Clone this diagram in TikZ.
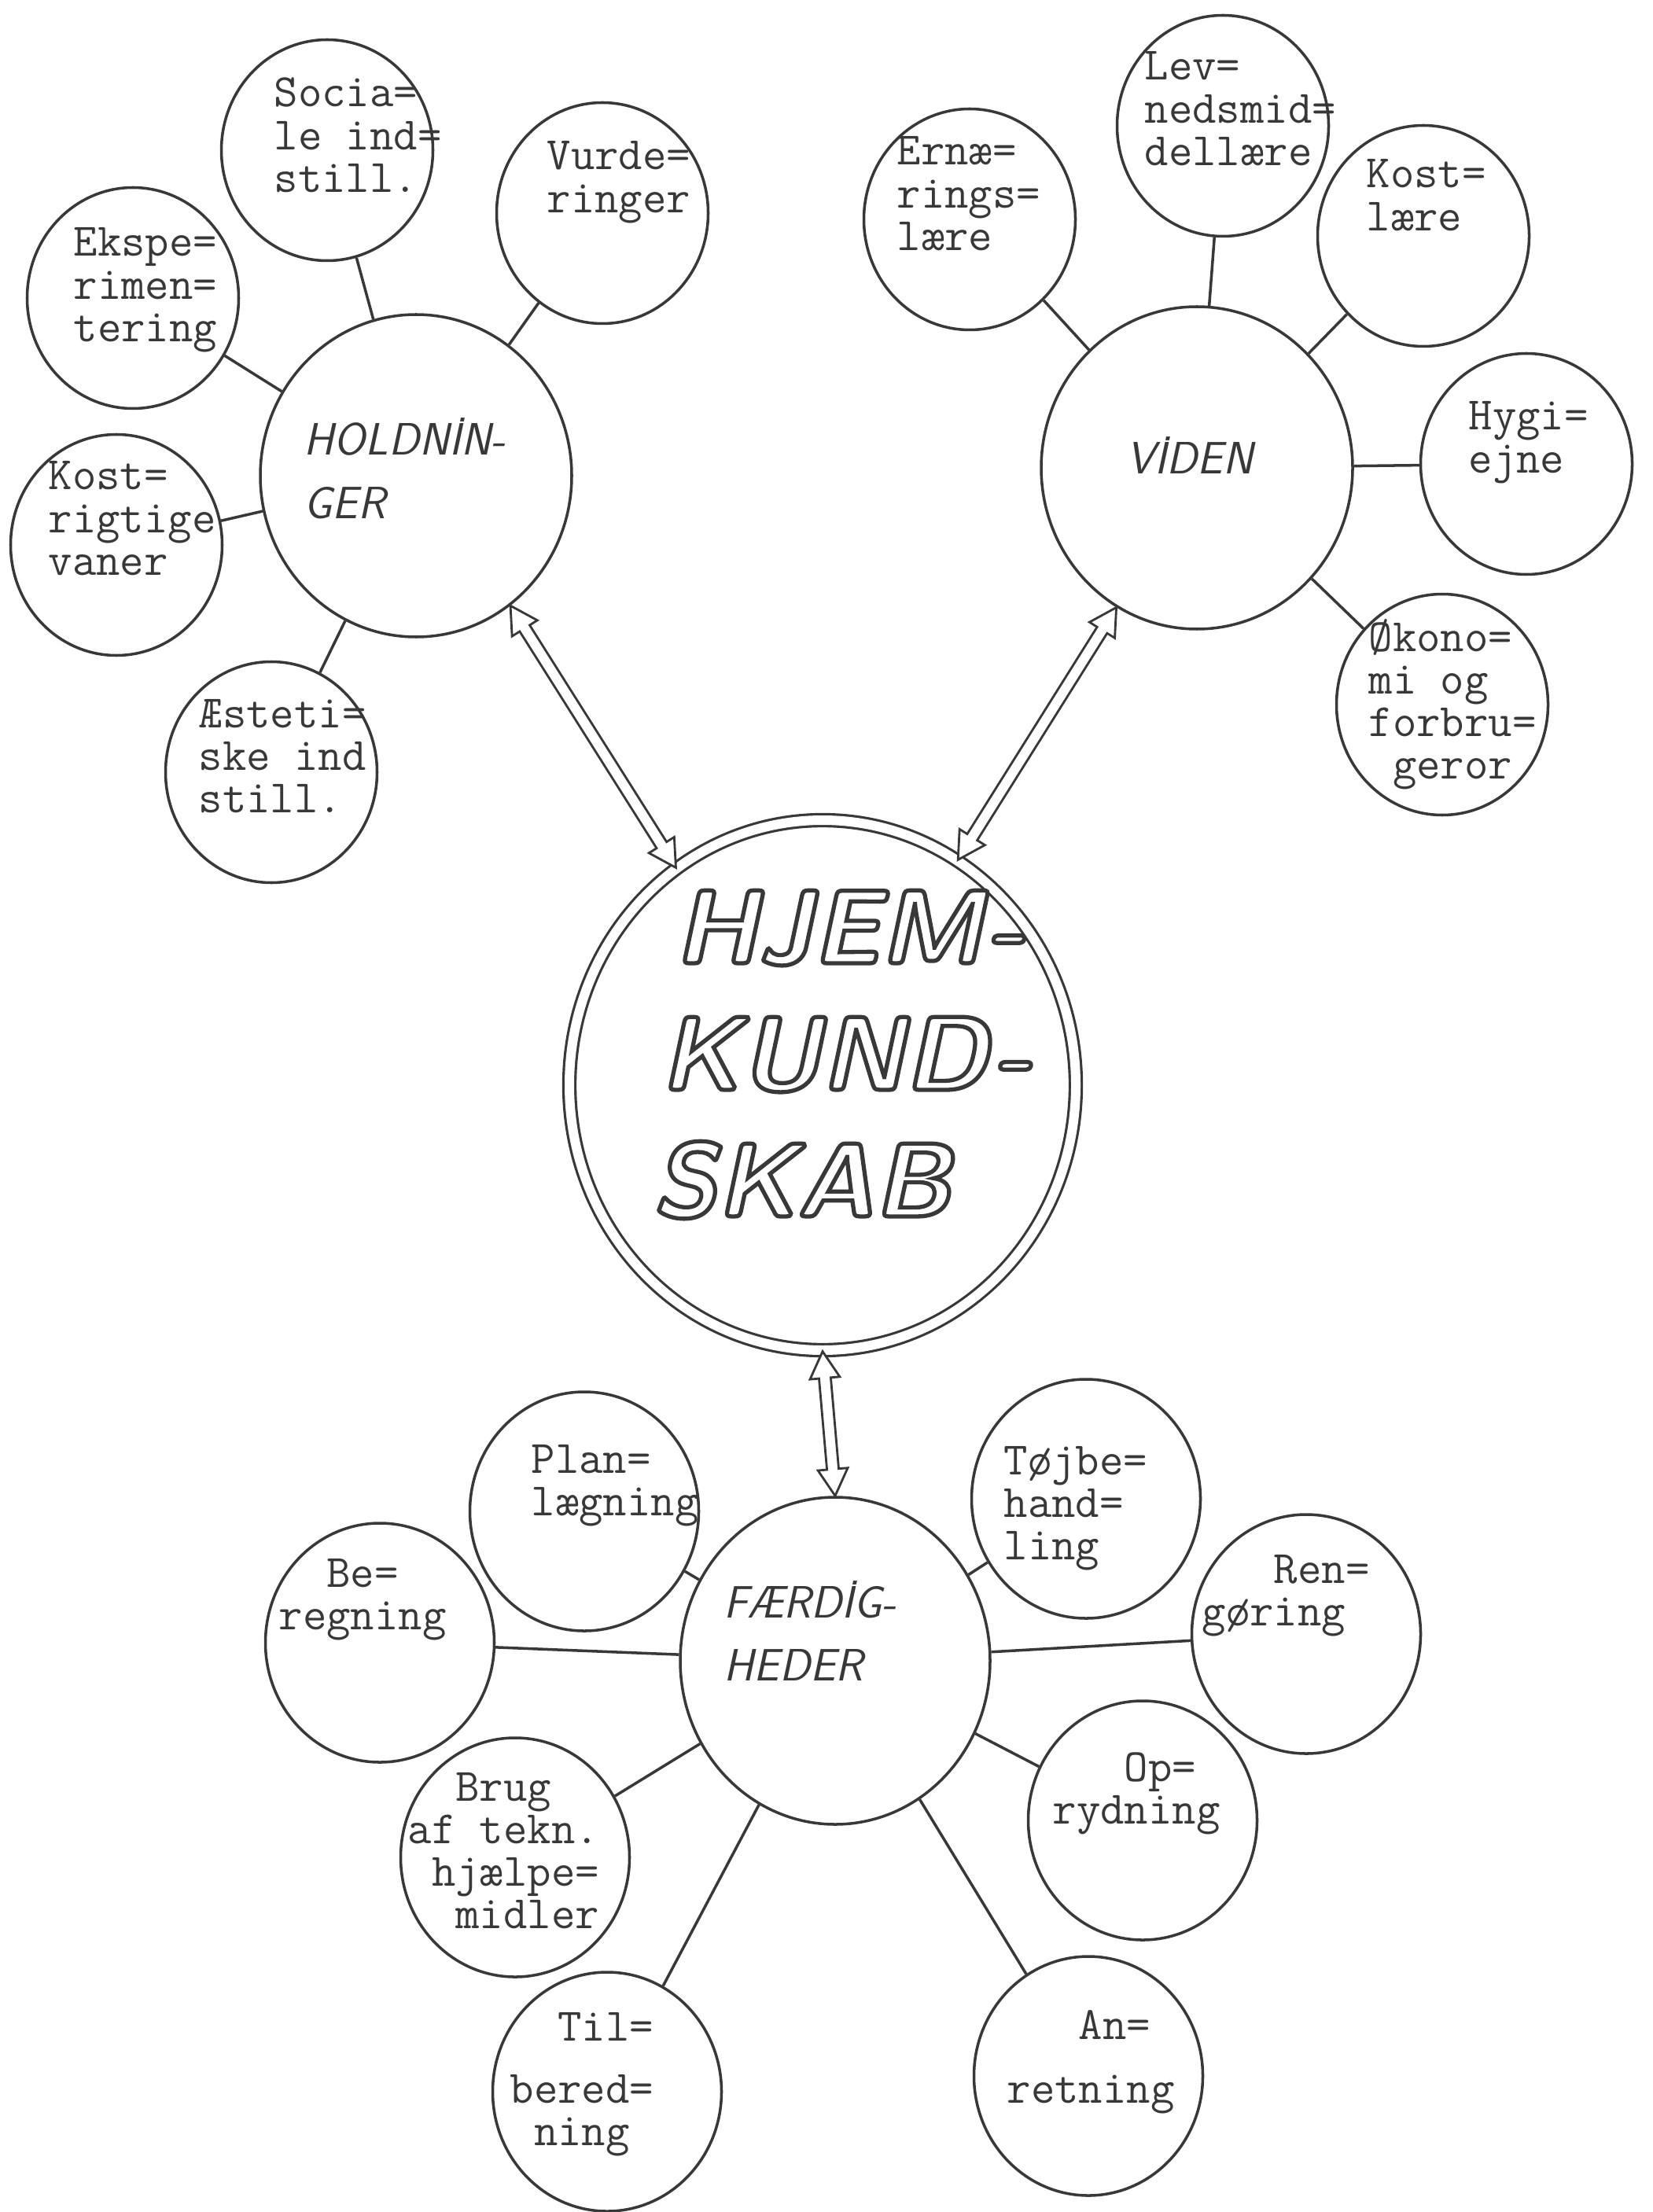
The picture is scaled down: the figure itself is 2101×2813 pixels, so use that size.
\documentclass[tikz,border=0pt]{standalone}
\usepackage{fontspec}
\usetikzlibrary{shapes.geometric,calc}

\definecolor{ink}{gray}{0.22}
\newcommand{\hollow}[1]{\special{pdf:literal direct 1 Tr 1.5 w}#1\special{pdf:literal direct 0 Tr}}
\newcommand{\typelines}[1]{\begin{tabular}[t]{@{}l@{}}#1\end{tabular}}

\tikzset{
  hub/.style={ellipse, draw=ink, line width=1pt, inner sep=0pt,
    minimum width=39.6mm, minimum height=41mm},
  leaf/.style={ellipse, draw=ink, line width=1pt, inner sep=0pt,
    minimum width=26.9mm, minimum height=28.1mm},
  leafb/.style={leaf, minimum width=29.1mm, minimum height=30.4mm},
  core/.style={ellipse, draw=ink, line width=0.9pt, double, double distance=1.2mm,
    inner sep=0pt, minimum width=64.4mm, minimum height=67.4mm},
  typed/.style={anchor=base west, inner sep=0pt, text=ink,
    font=\fontsize{16.8}{15.4}\selectfont\ttfamily},
  head/.style={anchor=base west, inner sep=0pt, text=ink,
    font=\fontsize{16.4}{22.8}\selectfont\sffamily\itshape},
  link/.style={draw=ink, line width=1pt},
  dblarrow/.style={draw=ink, fill=white, line width=0.8pt}
}

\begin{document}
\begin{tikzpicture}[x=0.1mm, y=-0.1mm]

\useasboundingbox (0,0) rectangle (2101,2813);

% HOLDNINGER
\node[hub] (hold) at (529,605) {};
\node[leaf] (socia) at (416,191) {};
\node[leaf] (vurde) at (766,271) {};
\node[leaf] (ekspe) at (169,379) {};
\node[leaf] (kosth) at (148,693) {};
\node[leaf] (aest) at (345,982) {};

\node[head] (hold-t) at (386,579) {\typelines{HOLDNİN-\\GER}};
\node[typed] (socia-t) at (348,136) {\typelines{Socia=\\le ind=\\still.}};
\node[typed] (vurde-t) at (695,216) {\typelines{Vurde=\\ringer}};
\node[typed] (ekspe-t) at (93,326) {\typelines{Ekspe=\\rimen=\\tering}};
\node[typed] (kosth-t) at (61,623) {\typelines{Kost=\\rigtige\\vaner}};
\node[typed] (aest-t) at (252,925) {\typelines{Æsteti=\\ske ind\\still.}};

\foreach \s in {socia,vurde,ekspe,kosth,aest}
  \draw[link] (hold) -- (\s);

% VIDEN
\node[hub] (viden) at (1522,595) {};
\node[leaf] (ernae) at (1233,279) {};
\node[leaf] (lev) at (1555,160) {};
\node[leaf] (kostv) at (1810,300) {};
\node[leaf] (hygi) at (1941,590) {};
\node[leaf] (oekono) at (1834,896) {};

\node[head] (viden-t) at (1432,603) {VİDEN};
\node[typed] (ernae-t) at (1140,210) {\typelines{Ernæ=\\rings=\\lære}};
\node[typed] (lev-t) at (1455,102) {\typelines{Lev=\\nedsmid=\\dellære}};
\node[typed] (kostv-t) at (1737,239) {\typelines{Kost=\\lære}};
\node[typed] (hygi-t) at (1867,547) {\typelines{Hygi=\\ejne}};
\node[typed] (oekono-t) at (1740,828) {\typelines{Økono=\\mi og\\forbru=\\~geror}};

\foreach \s in {ernae,lev,kostv,hygi,oekono}
  \draw[link] (viden) -- (\s);

% HJEMKUNDSKAB
\node[core] (hjem) at (1046,1380) {};
\node[anchor=base west, inner sep=0pt, text=ink,
  font=\fontsize{38}{45.8}\selectfont\sffamily\bfseries\itshape] (hjem-t) at (829,1225)
  {\hollow{\typelines{\hspace*{2.8mm}HJEM\kern0.6mm-\\\hspace*{1mm}KUND\kern0.8mm-\\SKAB}}};

% FAERDIGHEDER
\node[hub, minimum width=39.4mm, minimum height=41.6mm] (faerdig) at (1062,2112) {};
\node[leafb] (plan) at (743,1922) {};
\node[leafb] (be) at (483,2089) {};
\node[leafb] (brug) at (655,2362) {};
\node[leafb] (til) at (772,2660) {};
\node[leafb] (toej) at (1381,1906) {};
\node[leafb] (ren) at (1661,2078) {};
\node[leafb] (op) at (1453,2315) {};
\node[leafb] (an) at (1384,2640) {};

\node[head] (faerdig-t) at (920,2057) {\typelines{FÆRDİG-\\HEDER}};
\node[typed] (plan-t) at (675,1873) {\typelines{Plan=\\lægning}};
\node[typed] (be-t) at (354,2018) {\typelines{~~Be=\\regning}};
\node[typed] (brug-t) at (518,2290) {\typelines{~~Brug\\af tekn.\\~hjælpe=\\~~midler}};
\node[typed] (til-t) at (648,2595) {\typelines{~~Til=\\[2.5mm]bered=\\~ning}};
\node[typed] (toej-t) at (1276,1875) {\typelines{Tøjbe=\\hand=\\ling}};
\node[typed] (ren-t) at (1528,2013) {\typelines{~~~Ren=\\gøring}};
\node[typed] (op-t) at (1338,2265) {\typelines{~~~Op=\\rydning}};
\node[typed] (an-t) at (1280,2593) {\typelines{~~~An=\\[2.7mm]retning}};

\foreach \s in {plan,be,brug,til,toej,ren,op,an}
  \draw[link] (faerdig) -- (\s);

% double arrows, open heads at both ends
\foreach \a/\b in {hold.-54/hjem.124, viden.-120/hjem.59, hjem.south/faerdig.north}
  \draw[dblarrow] ($(\a)!3.4mm!(\b)!0.75mm!90:(\b)$)
    -- ($(\a)!3.4mm!(\b)!1.9mm!90:(\b)$) -- (\a)
    -- ($(\a)!3.4mm!(\b)!1.9mm!-90:(\b)$) -- ($(\a)!3.4mm!(\b)!0.75mm!-90:(\b)$)
    -- ($(\b)!3.4mm!(\a)!0.75mm!90:(\a)$) -- ($(\b)!3.4mm!(\a)!1.9mm!90:(\a)$)
    -- (\b)
    -- ($(\b)!3.4mm!(\a)!1.9mm!-90:(\a)$) -- ($(\b)!3.4mm!(\a)!0.75mm!-90:(\a)$)
    -- cycle;

\end{tikzpicture}
\end{document}
